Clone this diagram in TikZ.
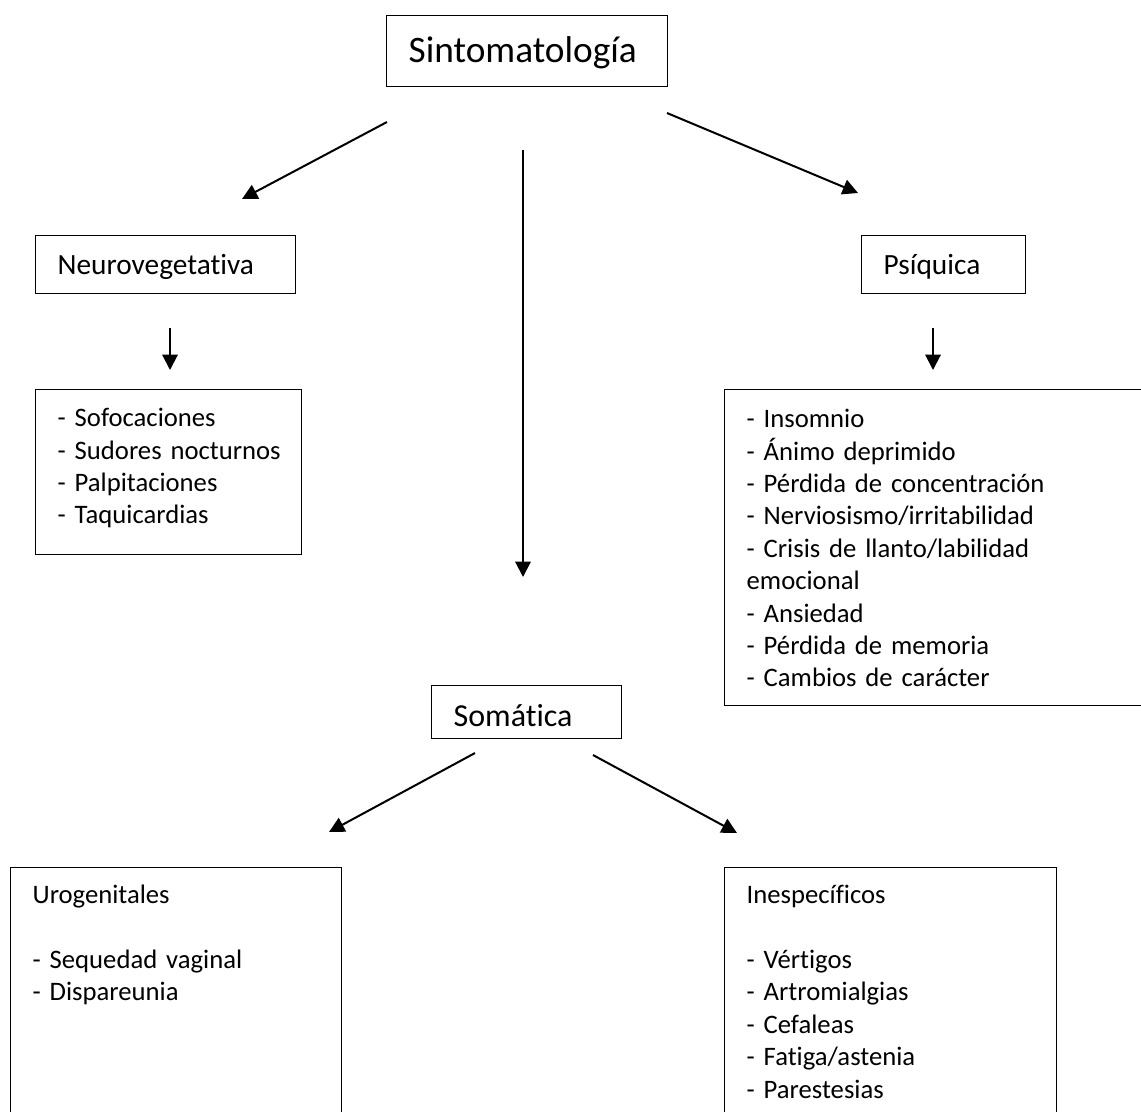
\documentclass[tikz,border=0pt]{standalone}
\usepackage{fontspec}
\setmainfont{Carlito}[Ligatures={NoCommon}]
\usetikzlibrary{arrows.meta}
\newcommand\letralista{\fontsize{20}{24.3}\selectfont}
\newcommand\letratitulo{\fontsize{22}{26}\selectfont}

\begin{document}
\begin{tikzpicture}[x=0.75pt,y=-0.75pt,>={Triangle[length=11.5pt,width=11.5pt]},
	caja/.style={draw,line width=1pt,anchor=north west,inner xsep=16.5pt,inner ysep=0pt,align=left},
	lista/.style={caja,font=\letralista},
	titulo/.style={caja,font=\letratitulo},
	flecha/.style={->,line width=1.5pt}]
	  \useasboundingbox (0,0) rectangle (1141,1111);
	  \clip (0,0) rectangle (1141,1111);
	  % cajas
	  \node[caja,text width=177.75pt,text height=35.25pt,text depth=18pt,font=\fontsize{28}{34}\selectfont] (sint) at (386,15) {Sintomatología};
	  \node[titulo,text width=162pt,text height=29.25pt,text depth=14.25pt] (neuro) at (35,235) {Neurovegetativa};
	  \node[titulo,text width=90pt,text height=29.25pt,text depth=14.25pt] (psiq) at (861,235) {Psíquica};
	  \node[caja,text width=109.5pt,text height=30.75pt,text depth=9pt,font=\fontsize{24}{28}\selectfont] (soma) at (431,685) {Somática};
	  \node[lista,text width=166.5pt,text height=27.75pt,text depth=96pt] (neurolist) at (35,389)
	    {- Sofocaciones\\\mbox{- Sudores nocturnos}\\- Palpitaciones\\- Taquicardias};
	  \node[lista,text width=294pt,text height=28.5pt,text depth=208.5pt] (psiqlist) at (724,389)
	    {- Insomnio\\- Ánimo deprimido\\- Pérdida de concentración\\- Nerviosismo/irritabilidad\\- Crisis de llanto/labilidad\\emocional\\- Ansiedad\\- Pérdida de memoria\\- Cambios de carácter};
	  \node[lista,text width=215.25pt,text height=27pt,text depth=178pt] (uro) at (10,867)
	    {Urogenitales\\[24.3pt]- Sequedad vaginal\\- Dispareunia};
	  \node[lista,text width=216pt,text height=27pt,text depth=178pt] (inesp) at (724,867)
	    {Inespecíficos\\[24.3pt]- Vértigos\\- Artromialgias\\- Cefaleas\\- Fatiga/astenia\\- Parestesias};
	  % extremos de las flechas
	  \coordinate (sint-l) at (387,122);
	  \coordinate (neuro-t) at (242,199);
	  \coordinate (sint-m) at (523,150);
	  \coordinate (soma-t) at (523,577);
	  \coordinate (sint-r) at (667,113);
	  \coordinate (psiq-t) at (858,193);
	  \coordinate (neuro-b) at (170,328);
	  \coordinate (neurolist-t) at (170,370);
	  \coordinate (psiq-b) at (933,328);
	  \coordinate (psiqlist-t) at (933,370);
	  \coordinate (soma-l) at (475,753);
	  \coordinate (uro-t) at (329,832);
	  \coordinate (soma-r) at (593,755);
	  \coordinate (inesp-t) at (737,833);
	  \draw[flecha] (sint-l) -- (neuro-t);
	  \draw[flecha] (sint-m) -- (soma-t);
	  \draw[flecha] (sint-r) -- (psiq-t);
	  \draw[flecha] (neuro-b) -- (neurolist-t);
	  \draw[flecha] (psiq-b) -- (psiqlist-t);
	  \draw[flecha] (soma-l) -- (uro-t);
	  \draw[flecha] (soma-r) -- (inesp-t);
	\end{tikzpicture}
\end{document}
